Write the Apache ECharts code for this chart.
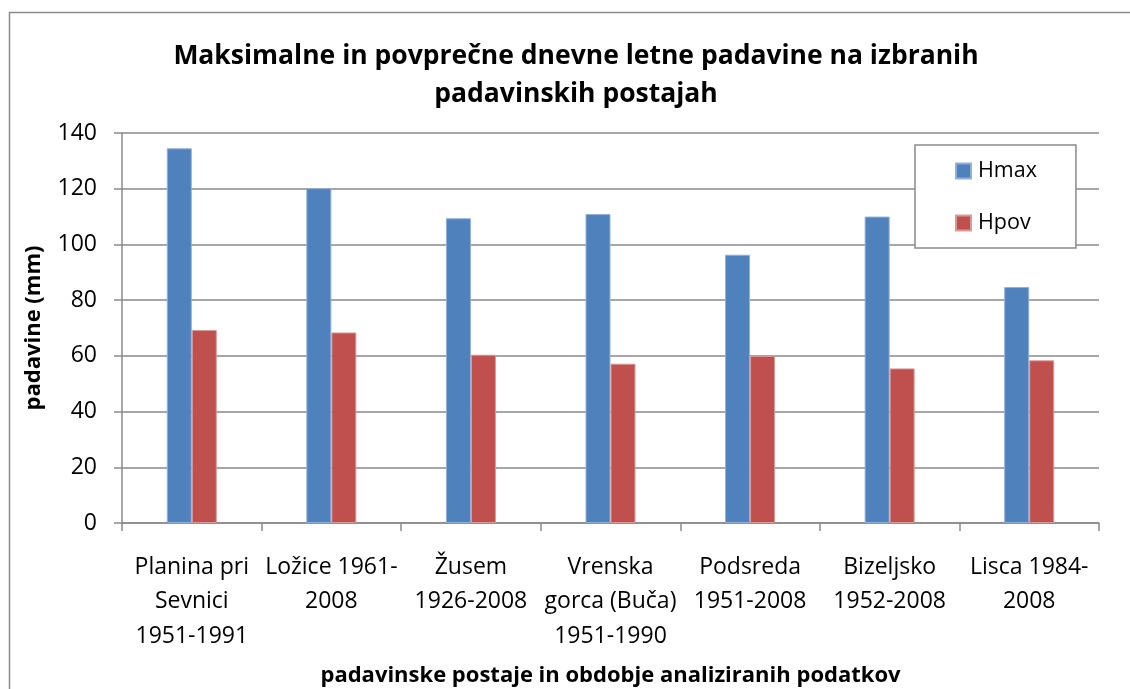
<!DOCTYPE html>
<html>
<head>
<meta charset="utf-8">
<script src="https://cdn.jsdelivr.net/npm/echarts@6/dist/echarts.min.js"></script>
<style>
html,body{margin:0;padding:0;background:#fff;}
#c{width:1130px;height:689px;}
</style>
</head>
<body>
<div id="c"></div>
<script>
var categories = [
  'Planina pri\nSevnici\n1951-1991',
  'Ložice 1961-\n2008',
  'Žusem\n1926-2008',
  'Vrenska\ngorca (Buča)\n1951-1990',
  'Podsreda\n1951-2008',
  'Bizeljsko\n1952-2008',
  'Lisca 1984-\n2008'
];
var hmax = [134.5, 120.2, 109.4, 110.9, 96.3, 110.0, 84.7];
var hpov = [69.3, 68.4, 60.4, 57.2, 60.0, 55.5, 58.4];
var yTicks = {min: 0, max: 140, interval: 20};

var FONT = 'Open Sans';
var chart = echarts.init(document.getElementById('c'), null, {renderer: 'canvas'});
chart.setOption({
  animation: false,
  backgroundColor: '#fff',
  title: {
    text: 'Maksimalne in povprečne dnevne letne padavine na izbranih\npadavinskih postajah',
    left: 571,
    top: 32,
    textAlign: 'center',
    textStyle: {fontFamily: FONT, fontWeight: 'bold', fontSize: 26.5, color: '#000', lineHeight: 38}
  },
  graphic: [{
    type: 'rect', z: -10, silent: true,
    shape: {x: 9.5, y: 12.5, width: 1200, height: 800},
    style: {fill: 'none', stroke: '#8a8a8a', lineWidth: 1.5}
  }],
  legend: {
    orient: 'vertical',
    left: 915, top: 145,
    padding: [15, 39, 14, 40],
    itemWidth: 15, itemHeight: 15, itemGap: 30,
    borderColor: '#8a8a8a', borderWidth: 1.5,
    backgroundColor: '#fff',
    icon: 'rect',
    textStyle: {fontFamily: FONT, fontSize: 21.5, color: '#000', lineHeight: 15, padding: [0,0,0,2]},
    data: ['Hmax', 'Hpov']
  },
  grid: {left: 122, right: 31, top: 133, bottom: 166, containLabel: false, outerBoundsMode: 'none'},
  xAxis: {
    type: 'category',
    data: categories,
    axisLine: {lineStyle: {color: '#8a8a8a', width: 1.5}},
    axisTick: {show: true, length: 8, lineStyle: {color: '#8a8a8a', width: 1.5}},
    axisLabel: {interval: 0, margin: 27, fontFamily: FONT, fontSize: 23, color: '#000', lineHeight: 34.5},
    name: 'padavinske postaje in obdobje analiziranih podatkov',
    nameLocation: 'middle',
    nameGap: 142,
    nameTextStyle: {fontFamily: FONT, fontWeight: 'bold', fontSize: 22, color: '#000'}
  },
  yAxis: {
    type: 'value',
    min: yTicks.min, max: yTicks.max, interval: yTicks.interval,
    axisLine: {show: true, lineStyle: {color: '#8a8a8a', width: 1.5}},
    axisTick: {show: true, length: 8, lineStyle: {color: '#8a8a8a', width: 1.5}},
    splitLine: {lineStyle: {color: '#8a8a8a', width: 1.5}},
    axisLabel: {margin: 25, fontFamily: FONT, fontSize: 23, color: '#000'},
    name: 'padavine (mm)',
    nameLocation: 'middle',
    nameRotate: 90,
    nameGap: 77,
    nameTextStyle: {fontFamily: FONT, fontWeight: 'bold', fontSize: 22, color: '#000'}
  },
  series: [
    {name: 'Hmax', type: 'bar', data: hmax, barWidth: 25, barGap: '0%',
     itemStyle: {color: '#4F81BD', borderColor: '#8fb0d9', borderWidth: 1}},
    {name: 'Hpov', type: 'bar', data: hpov, barWidth: 25,
     itemStyle: {color: '#C0504D', borderColor: '#d99a98', borderWidth: 1}}
  ]
});
</script>
</body>
</html>
